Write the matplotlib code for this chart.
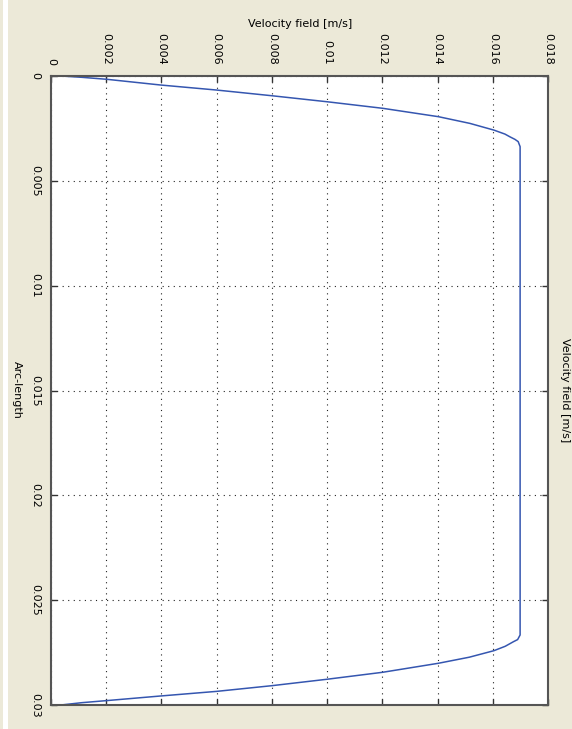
import numpy as np
import matplotlib.pyplot as plt

arc_length = [0.0, 0.000062, 0.000157, 0.00043, 0.00067, 0.00094, 0.00123, 0.00154,
              0.00194, 0.00226, 0.00258, 0.00277, 0.00290, 0.00302, 0.00313, 0.00337,
              0.02666, 0.02688, 0.02698, 0.02720, 0.02741, 0.02772, 0.02801, 0.02844,
              0.02877, 0.02908, 0.02935, 0.02957, 0.02979, 0.02989, 0.03]
velocity = [0.00036, 0.00111, 0.00202, 0.00397, 0.00600, 0.00799, 0.01001, 0.01201,
            0.01403, 0.01517, 0.01604, 0.01644, 0.01662, 0.01680, 0.01692, 0.01699,
            0.01699, 0.01690, 0.01675, 0.01645, 0.01604, 0.01515, 0.01403, 0.01201,
            0.01001, 0.00799, 0.00600, 0.00397, 0.00202, 0.00111, 0.00036]

vel_ticks = [0, 0.002, 0.004, 0.006, 0.008, 0.01, 0.012, 0.014, 0.016, 0.018]
vel_labels = ["0", "0.002", "0.004", "0.006", "0.008", "0.01", "0.012", "0.014", "0.016", "0.018"]
arc_ticks = [0, 0.005, 0.01, 0.015, 0.02, 0.025, 0.03]
arc_labels = ["0", "0.005", "0.01", "0.015", "0.02", "0.025", "0.03"]

BG = "#ECE9D8"
W, H = 572, 729

fig = plt.figure(figsize=(W / 100, H / 100), dpi=100, facecolor=BG)
# thin white strip at the left edge
fig.patches.append(plt.Rectangle((3 / W, 0), 5 / W, 1, transform=fig.transFigure,
                                 facecolor="white", edgecolor="none"))

ax = fig.add_axes([51 / W, 1 - 705 / H, (548 - 51) / W, (705 - 76) / H])
ax.set_facecolor("white")

ax.plot(velocity, arc_length, color="#3556b0", linewidth=1.1)

ax.set_xlim(0, 0.018)
ax.set_ylim(0.03, 0)
ax.set_xticks(vel_ticks)
ax.set_xticklabels(vel_labels, rotation=-90, fontsize=8)
ax.set_yticks(arc_ticks)
ax.set_yticklabels(arc_labels, rotation=-90, va="center", fontsize=8)

ax.xaxis.tick_top()
ax.tick_params(axis="both", direction="in", length=4, width=1, color="#333333",
               top=True, bottom=True, left=True, right=True,
               labeltop=True, labelbottom=False, labelleft=True, labelright=False,
               pad=8)
for lbl in ax.get_xticklabels():
    lbl.set_va("bottom")
    lbl.set_ha("center")

ax.grid(True, color="#222222", linestyle=(0, (1, 4)), linewidth=0.8)

for s in ax.spines.values():
    s.set_color("#555555")
    s.set_linewidth(1.5)

fig.text(300 / W, 1 - 24 / H, "Velocity field [m/s]", ha="center", va="center", fontsize=8)
fig.text(565 / W, 1 - 390 / H, "Velocity field [m/s]", ha="center", va="center",
         rotation=-90, fontsize=8)
fig.text(17 / W, 1 - 390 / H, "Arc-length", ha="center", va="center",
         rotation=-90, fontsize=8)

fig.savefig("out.png", dpi=100, facecolor=BG)
